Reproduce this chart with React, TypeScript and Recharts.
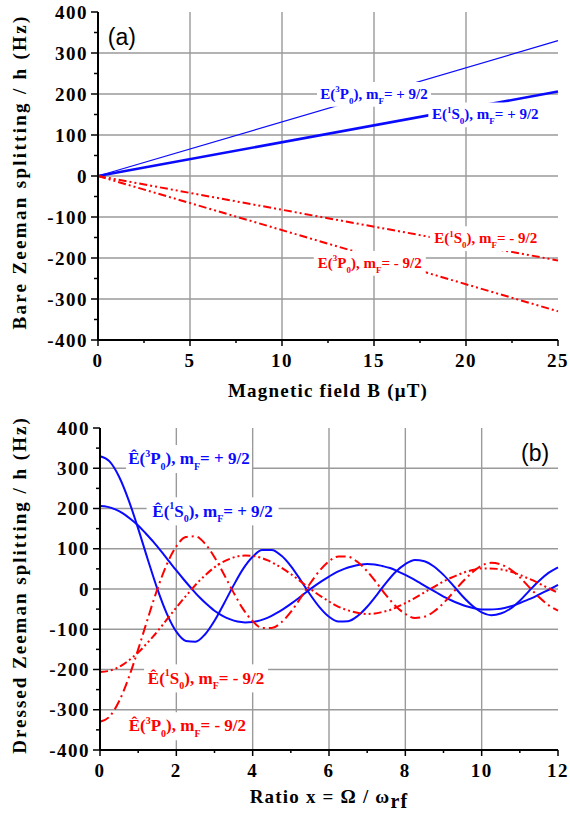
import React from 'react';
import { LineChart, Line, XAxis, YAxis, CartesianGrid, ReferenceDot } from 'recharts';

// ---------- Panel (a): bare Zeeman splitting ----------
const bareField = [0, 25];
const bareP3Plus = [0, 330];
const bareS1Plus = [0, 206];
const bareS1Minus = [0, -206];
const bareP3Minus = [0, -330];

const topYTicks = [-400, -350, -300, -250, -200, -150, -100, -50, 0, 50, 100, 150, 200, 250, 300, 350, 400];
const topXTicks = [0, 2.5, 5, 7.5, 10, 12.5, 15, 17.5, 20, 22.5, 25];
const topGridY = [-300, -200, -100, 0, 100, 200, 300];
const topGridX = [5, 10, 15, 20];

// ---------- Panel (b): dressed Zeeman splitting ----------
const ratioS1 = [0, 0.2, 0.4, 0.6, 0.8, 1, 1.2, 1.4, 1.6, 1.8, 2, 2.2, 2.4, 2.6, 2.8, 3, 3.2, 3.4, 3.6, 3.8, 4, 4.2, 4.4, 4.6, 4.8, 5, 5.2, 5.4, 5.6, 5.8, 6, 6.2, 6.4, 6.6, 6.8, 7, 7.2, 7.4, 7.6, 7.8, 8, 8.2, 8.4, 8.6, 8.8, 9, 9.2, 9.4, 9.6, 9.8, 10, 10.2, 10.4, 10.6, 10.8, 11, 11.2, 11.4, 11.6, 11.8, 12];
const dressedS1Plus = [206, 204, 198, 188, 174, 158, 138, 117, 94, 70, 46, 23, 1, -20, -38, -54, -66, -75, -81, -83, -82, -78, -71, -61, -50, -37, -23, -8, 6, 19, 31, 42, 50, 56, 60, 62, 61, 57, 52, 44, 35, 25, 14, 3, -8, -19, -28, -36, -43, -48, -51, -51, -50, -47, -42, -35, -27, -19, -9, 0, 10];
const dressedS1Minus = [-206, -204, -198, -188, -174, -158, -138, -117, -94, -70, -46, -23, -1, 20, 38, 54, 66, 75, 81, 83, 82, 78, 71, 61, 50, 37, 23, 8, -6, -19, -31, -42, -50, -56, -60, -62, -61, -57, -52, -44, -35, -25, -14, -3, 8, 19, 28, 36, 43, 48, 51, 51, 50, 47, 42, 35, 27, 19, 9, 0, -10];

const ratioP3 = [0, 0.25, 0.5, 0.75, 1, 1.25, 1.5, 1.75, 2, 2.25, 2.5, 2.75, 3, 3.25, 3.5, 3.75, 4, 4.25, 4.5, 4.75, 5, 5.25, 5.5, 5.75, 6, 6.25, 6.5, 6.75, 7, 7.25, 7.5, 7.75, 8, 8.25, 8.5, 8.75, 9, 9.25, 9.5, 9.75, 10, 10.25, 10.5, 10.75, 11, 11.25, 11.5, 11.75, 12];
const dressedP3Plus = [330, 317, 279, 221, 150, 74, 1, -61, -106, -129, -131, -113, -79, -36, 9, 50, 80, 97, 97, 83, 57, 23, -13, -45, -69, -81, -80, -67, -44, -15, 16, 43, 62, 72, 69, 56, 35, 9, -18, -41, -58, -65, -61, -49, -29, -4, 20, 40, 54];
const dressedP3Minus = [-330, -317, -279, -221, -150, -74, -1, 61, 106, 129, 131, 113, 79, 36, -9, -50, -80, -97, -97, -83, -57, -23, 13, 45, 69, 81, 80, 67, 44, 15, -16, -43, -62, -72, -69, -56, -35, -9, 18, 41, 58, 65, 61, 49, 29, 4, -20, -40, -54];

const botYTicks = topYTicks;
const botXTicks = [0, 1, 2, 3, 4, 5, 6, 7, 8, 9, 10, 11, 12];
const botGridY = [-300, -200, -100, 0, 100, 200, 300];
const botGridX = [2, 4, 6, 8, 10];

// ---------- build chart tables ----------
const bareData = bareField.map((b, i) => ({
  b,
  p3p: bareP3Plus[i],
  s1p: bareS1Plus[i],
  s1m: bareS1Minus[i],
  p3m: bareP3Minus[i],
}));
const s1Data = ratioS1.map((x, i) => ({ x, plus: dressedS1Plus[i], minus: dressedS1Minus[i] }));
const p3Data = ratioP3.map((x, i) => ({ x, plus: dressedP3Plus[i], minus: dressedP3Minus[i] }));

// ---------- styling ----------
const SERIF = '"Liberation Serif", "Times New Roman", serif';
const SANS = '"Liberation Sans", Arial, sans-serif';
const BLUE = '#0a0aff';
const RED = '#ff0000';
const GRID = '#9a9a9a';
const DASH_DOT_DOT = '8 3 2 3 2 3';
const DASH_DOT = '10 4 2 4';

const tickFont = { fontFamily: SERIF, fontWeight: 700, fontSize: 19, letterSpacing: 1.5, fill: '#000' };

const makeLeftTick = (majorStep: number) => (props: any) => {
  const { x, y, payload } = props;
  const v = payload.value;
  const major = Math.abs(v % majorStep) < 1e-9;
  return (
    <g>
      <line x1={x - (major ? 7 : 4)} x2={x} y1={y} y2={y} stroke="#000" strokeWidth={1.5} />
      {major && (
        <text x={x - 10} y={y} dy="0.35em" textAnchor="end" {...tickFont}>
          {v}
        </text>
      )}
    </g>
  );
};
const makeRightTick = (majorStep: number) => (props: any) => {
  const { x, y, payload } = props;
  const major = Math.abs(payload.value % majorStep) < 1e-9;
  return <line x1={x} x2={x + (major ? 6 : 3)} y1={y} y2={y} stroke="#000" strokeWidth={1.5} />;
};
const makeBottomTick = (majorStep: number) => (props: any) => {
  const { x, y, payload } = props;
  const v = payload.value;
  const major = Math.abs(v % majorStep) < 1e-9;
  return (
    <g>
      <line x1={x} x2={x} y1={y} y2={y + (major ? 6 : 3)} stroke="#000" strokeWidth={1.5} />
      {major && (
        <text x={x} y={y + 27} textAnchor="middle" {...tickFont}>
          {v}
        </text>
      )}
    </g>
  );
};
const makeTopTick = (majorStep: number) => (props: any) => {
  const { x, y, payload } = props;
  const major = Math.abs(payload.value % majorStep) < 1e-9;
  return <line x1={x} x2={x} y1={y} y2={y - (major ? 6 : 3)} stroke="#000" strokeWidth={1.5} />;
};

const yTitle = (text: string, spacing: number) => (props: any) => {
  const vb = props.viewBox || { x: 0, y: 0, width: 0, height: 0 };
  const cx = 26;
  const cy = vb.y + vb.height / 2 - 4;
  return (
    <text
      transform={`translate(${cx},${cy}) rotate(-90)`}
      textAnchor="middle"
      fontFamily={SERIF}
      fontWeight={700}
      fontSize={19}
      letterSpacing={spacing}
      fill="#000"
    >
      {text}
    </text>
  );
};

const xTitle = (content: React.ReactNode, offset: number) => (props: any) => {
  const vb = props.viewBox || { x: 0, y: 0, width: 0, height: 0 };
  return (
    <text
      x={vb.x + vb.width / 2}
      y={vb.y + offset}
      textAnchor="middle"
      fontFamily={SERIF}
      fontWeight={700}
      fontSize={19}
      letterSpacing={1.2}
      fill="#000"
    >
      {content}
    </text>
  );
};

type StateLabelProps = {
  cx?: number;
  cy?: number;
  color: string;
  hat: boolean;
  term: string;
  mult: string;
  sign: string;
  size: number;
  w: number;
};

function StateLabel({ cx = 0, cy = 0, color, hat, term, mult, sign, size, w }: StateLabelProps) {
  const small = Math.round(size * 0.6);
  const up = size * 0.45;
  const down = size * 0.32;
  return (
    <g>
      <rect x={cx - w / 2} y={cy - size * 0.8} width={w} height={size * 1.65} fill="#fff" />
      <text
        x={cx}
        y={cy + size * 0.33}
        textAnchor="middle"
        fontFamily={SERIF}
        fontWeight={700}
        fontSize={size}
        fill={color}
      >
        {hat ? '\u00CA(' : 'E('}
        <tspan fontSize={small} dy={-up}>
          {mult}
        </tspan>
        <tspan dy={up}>{term}</tspan>
        <tspan fontSize={small} dy={down}>
          0
        </tspan>
        <tspan dy={-down}>), m</tspan>
        <tspan fontSize={small} dy={down}>
          F
        </tspan>
        <tspan dy={-down}>{`= ${sign} 9/2`}</tspan>
      </text>
    </g>
  );
}

const panelTag = (text: string) => (p: any) => (
  <text
    x={p.cx}
    y={p.cy}
    dy="0.35em"
    textAnchor="middle"
    fontFamily={SANS}
    fontSize={23}
    fill="#000"
  >
    {text}
  </text>
);

const axisLine = { stroke: '#000', strokeWidth: 2 };

export default function App() {
  return (
    <div style={{ position: 'absolute', left: 0, top: 0, width: 570, height: 814, background: '#fff' }}>
      <LineChart width={570} height={407} data={bareData} margin={{ top: 12, right: 12, bottom: 17, left: 38 }}>
        <CartesianGrid
          stroke={GRID}
          strokeWidth={1.4}
          horizontalValues={topGridY}
          verticalValues={topGridX}
        />
        <XAxis
          dataKey="b"
          type="number"
          domain={[0, 25]}
          ticks={topXTicks}
          interval={0}
          height={50}
          tickSize={0}
          tickMargin={0}
          tickLine={false}
          axisLine={axisLine}
          tick={makeBottomTick(5)}
          label={xTitle(<>Magnetic field B (&#956;T)</>, 57)}
        />
        <XAxis
          xAxisId="top"
          orientation="top"
          type="number"
          domain={[0, 25]}
          ticks={topXTicks}
          interval={0}
          height={0}
          tickSize={0}
          tickMargin={0}
          tickLine={false}
          axisLine={axisLine}
          tick={makeTopTick(5)}
        />
        <YAxis
          type="number"
          domain={[-400, 400]}
          ticks={topYTicks}
          interval={0}
          width={60}
          tickSize={0}
          tickMargin={0}
          tickLine={false}
          axisLine={axisLine}
          tick={makeLeftTick(100)}
          label={yTitle('Bare Zeeman splitting / h (Hz)', 2.3)}
        />
        <YAxis
          yAxisId="right"
          orientation="right"
          type="number"
          domain={[-400, 400]}
          ticks={topYTicks}
          interval={0}
          width={0}
          tickSize={0}
          tickMargin={0}
          tickLine={false}
          axisLine={axisLine}
          tick={makeRightTick(100)}
        />
        <Line dataKey="p3p" type="linear" stroke={BLUE} strokeWidth={1.2} dot={false} activeDot={false} isAnimationActive={false} />
        <Line dataKey="s1p" type="linear" stroke={BLUE} strokeWidth={2.6} dot={false} activeDot={false} isAnimationActive={false} />
        <Line dataKey="s1m" type="linear" stroke={RED} strokeWidth={2} strokeDasharray={DASH_DOT_DOT} dot={false} activeDot={false} isAnimationActive={false} />
        <Line dataKey="p3m" type="linear" stroke={RED} strokeWidth={2} strokeDasharray={DASH_DOT_DOT} dot={false} activeDot={false} isAnimationActive={false} />
        <ReferenceDot x={15} y={200} r={0} shape={(p: any) => <StateLabel cx={p.cx} cy={p.cy} color={BLUE} hat={false} term="P" mult="3" sign="+" size={15} w={114} />} />
        <ReferenceDot x={21.05} y={150} r={0} shape={(p: any) => <StateLabel cx={p.cx} cy={p.cy} color={BLUE} hat={false} term="S" mult="1" sign="+" size={15} w={114} />} />
        <ReferenceDot x={21.07} y={-152} r={0} shape={(p: any) => <StateLabel cx={p.cx} cy={p.cy} color={RED} hat={false} term="S" mult="1" sign="-" size={15} w={112} />} />
        <ReferenceDot x={14.77} y={-212} r={0} shape={(p: any) => <StateLabel cx={p.cx} cy={p.cy} color={RED} hat={false} term="P" mult="3" sign="-" size={15} w={112} />} />
        <ReferenceDot x={1.3} y={339} r={0} shape={panelTag('(a)')} />
      </LineChart>

      <LineChart width={570} height={407} data={s1Data} margin={{ top: 21, right: 12, bottom: 14, left: 40 }}>
        <CartesianGrid
          stroke={GRID}
          strokeWidth={1.4}
          horizontalValues={botGridY}
          verticalValues={botGridX}
        />
        <XAxis
          dataKey="x"
          type="number"
          domain={[0, 12]}
          ticks={botXTicks}
          interval={0}
          height={50}
          tickSize={0}
          tickMargin={0}
          tickLine={false}
          axisLine={axisLine}
          tick={makeBottomTick(2)}
          label={xTitle(
            <>
              Ratio x = &#937; / &#969;<tspan dy={5} fontSize={20}>rf</tspan>
            </>,
            53
          )}
        />
        <XAxis
          xAxisId="top"
          orientation="top"
          type="number"
          domain={[0, 12]}
          ticks={botXTicks}
          interval={0}
          height={0}
          tickSize={0}
          tickMargin={0}
          tickLine={false}
          axisLine={axisLine}
          tick={makeTopTick(2)}
        />
        <YAxis
          type="number"
          domain={[-400, 400]}
          ticks={botYTicks}
          interval={0}
          width={60}
          tickSize={0}
          tickMargin={0}
          tickLine={false}
          axisLine={axisLine}
          tick={makeLeftTick(100)}
          label={yTitle('Dressed Zeeman splitting / h (Hz)', 2)}
        />
        <YAxis
          yAxisId="right"
          orientation="right"
          type="number"
          domain={[-400, 400]}
          ticks={botYTicks}
          interval={0}
          width={0}
          tickSize={0}
          tickMargin={0}
          tickLine={false}
          axisLine={axisLine}
          tick={makeRightTick(100)}
        />
        <Line data={p3Data} dataKey="plus" type="monotone" stroke={BLUE} strokeWidth={2} dot={false} activeDot={false} isAnimationActive={false} />
        <Line dataKey="plus" type="monotone" stroke={BLUE} strokeWidth={2} dot={false} activeDot={false} isAnimationActive={false} />
        <Line data={p3Data} dataKey="minus" type="monotone" stroke={RED} strokeWidth={2} strokeDasharray={DASH_DOT} dot={false} activeDot={false} isAnimationActive={false} />
        <Line dataKey="minus" type="monotone" stroke={RED} strokeWidth={2} strokeDasharray={DASH_DOT_DOT} dot={false} activeDot={false} isAnimationActive={false} />
        <ReferenceDot x={2.33} y={324} r={0} shape={(p: any) => <StateLabel cx={p.cx} cy={p.cy} color={BLUE} hat={true} term="P" mult="3" sign="+" size={17} w={126} />} />
        <ReferenceDot x={2.95} y={194} r={0} shape={(p: any) => <StateLabel cx={p.cx} cy={p.cy} color={BLUE} hat={true} term="S" mult="1" sign="+" size={17} w={132} />} />
        <ReferenceDot x={2.78} y={-221} r={0} shape={(p: any) => <StateLabel cx={p.cx} cy={p.cy} color={RED} hat={true} term="S" mult="1" sign="-" size={17} w={124} />} />
        <ReferenceDot x={2.29} y={-340} r={0} shape={(p: any) => <StateLabel cx={p.cx} cy={p.cy} color={RED} hat={true} term="P" mult="3" sign="-" size={17} w={126} />} />
        <ReferenceDot x={11.4} y={339} r={0} shape={panelTag('(b)')} />
      </LineChart>
    </div>
  );
}
